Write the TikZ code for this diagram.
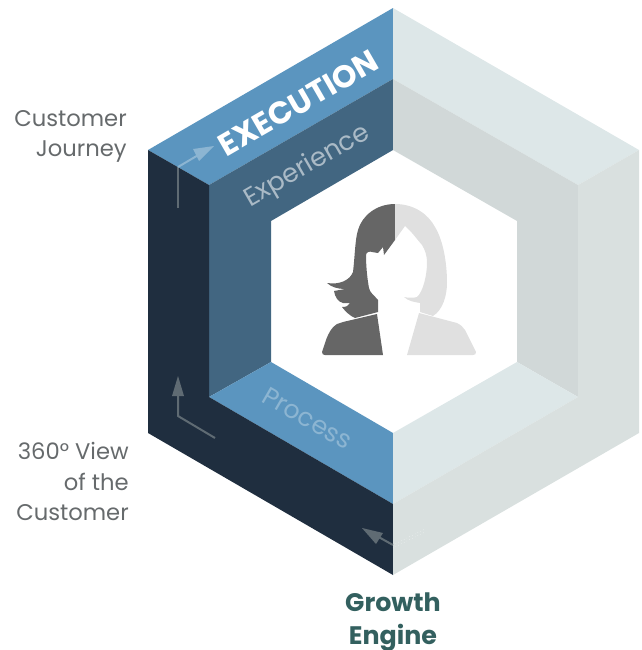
\documentclass[tikz,border=0pt]{standalone}
\usepackage{fontspec}
\setmainfont{Poppins}
\definecolor{bluelight}{HTML}{5B95BF}
\definecolor{bluemid}{HTML}{426681}
\definecolor{bluedark}{HTML}{1F2E3F}
\definecolor{palelight}{HTML}{DDE7E8}
\definecolor{palemid}{HTML}{D1D8D8}
\definecolor{paleface}{HTML}{D9E0DF}
\definecolor{hairdark}{HTML}{666666}
\definecolor{hairlight}{HTML}{E0E0E0}
\definecolor{labelgrey}{HTML}{666A6C}
\definecolor{labelgreen}{HTML}{33605F}
\definecolor{arrowgrey}{HTML}{5F6B73}
\tikzset{
  px/.style={x=0.75pt,y=-0.75pt},
  sidelabel/.style={text=labelgrey,font=\fontsize{17pt}{23pt}\selectfont,align=right,inner sep=0pt},
  flowarrow/.style={line width=1.5pt,draw=arrowgrey},
  flowtip/.style={fill=arrowgrey,draw=none}
}
\begin{document}
\begin{tikzpicture}[px]
\useasboundingbox (0,0) rectangle (642,650);

% Faces of the left half
\fill [bluelight] (148,150) -- (393,8) -- (393,79) -- (209,185) -- cycle;
\fill [bluemid] (209,185) -- (393,79) -- (393,150) -- (271,221) -- (271,362) -- (209,397) -- cycle;
\fill [bluelight] (209,397) -- (271,362) -- (393,433) -- (393,504) -- cycle;
\fill [bluedark] (148,150) -- (209,185) -- (209,397) -- (393,504) -- (393,575) -- (148,433) -- cycle;

% Faces of the right half
\fill [palelight] (393,8) -- (639,150) -- (578,185) -- (393,79) -- cycle;
\fill [palemid] (393,79) -- (578,185) -- (578,397) -- (517,362) -- (517,221) -- (393,150) -- cycle;
\fill [palelight] (393,433) -- (517,362) -- (578,397) -- (393,504) -- cycle;
\fill [paleface] (578,185) -- (639,150) -- (639,433) -- (393,575) -- (393,504) -- (578,397) -- cycle;

% Flow arrows
\draw [flowarrow] (178,208) -- (178,167);
\draw [line width=1.5pt,draw=bluelight!70!white] (178,167) -- (200,154);
\fill [bluelight!70!white] (214,146) -- (193,149) -- (199,161) -- cycle;
\draw [flowarrow] (215,438) -- (178,416) -- (178,390);
\fill [flowtip] (178,376) -- (172,396) -- (184,396) -- cycle;
\draw [flowarrow] (393,545) -- (375,535);
\fill [flowtip] (362,528) -- (383,533) -- (376,544) -- cycle;
\draw [white,line width=.3pt,dotted] (393,545) -- (425,529);
\draw [white,line width=.3pt,dotted] (393,548) -- (425,532);

% Woman, dark half
\fill [hairdark] (395,204) .. controls (376,204) and (362,216) .. (358,230)
  .. controls (355,240) and (355,255) .. (353,272)
  .. controls (350,280) and (340,285) .. (327,283)
  .. controls (331,287) and (338,289) .. (345,289) -- (334,291)
  .. controls (335,297) and (338,302) .. (343,303) -- (350,303)
  .. controls (349,306) and (346,307) .. (342,307)
  .. controls (345,311) and (350,316) .. (355,318)
  -- (378,312) -- (378,300) .. controls (374,295) and (370,293) .. (369,288)
  .. controls (367,277) and (366,265) .. (366,255)
  .. controls (366,252) and (370,251) .. (372,252) -- (378,253) -- (383,247) -- (384,255) -- (395,240) -- cycle;
\fill [hairdark] (377,314) -- (383,355) -- (325,355) .. controls (323,355) and (322,354) .. (322,352)
  -- (326,340) .. controls (329,332) and (332,327) .. (337,324) -- (343,322) -- cycle;

% Woman, light half
\fill [hairlight] (395,204) .. controls (414,204) and (428,214) .. (435,227)
  .. controls (443,240) and (447,262) .. (447,283)
  .. controls (447,295) and (443,310) .. (433,316) -- (420,312) -- (420,303)
  .. controls (414,302) and (408,301) .. (404,297)
  .. controls (408,298) and (414,298) .. (417,297)
  .. controls (423,292) and (427,275) .. (427,263)
  .. controls (427,255) and (425,250) .. (422,245)
  .. controls (416,238) and (411,231) .. (405,226) -- (395,240) -- cycle;
\fill [hairlight] (419,313) -- (457,323) .. controls (461,325) and (463,327) .. (465,330)
  -- (476,352) .. controls (476,354) and (475,355) .. (473,355) -- (407,355) -- cycle;

% Labels on the faces
\node (execution) [white,font=\fontsize{23.5pt}{23.5pt}\bfseries\selectfont,rotate=30,inner sep=0pt] at (298.5,103) {EXECUTION};
\node (experience) [text=white!55!bluemid,font=\fontsize{19.5pt}{19.5pt}\selectfont,rotate=30,inner sep=0pt] at (307.5,166.5) {Experience};
\node (process) [text=white!30!bluelight,font=\fontsize{19pt}{19pt}\selectfont,rotate=-30,inner sep=0pt] at (307.5,418.5) {Process};

% Labels outside
\node (journey) [sidelabel,anchor=east] at (127,136.5) {Customer\\Journey};
\node (view) [sidelabel,anchor=east] at (129,481.5) {360° View\\of the\\Customer};
\node (growth) [text=labelgreen,font=\fontsize{19pt}{25pt}\bfseries\selectfont,align=center,inner sep=0pt] at (393,622) {Growth\\Engine};
\end{tikzpicture}
\end{document}
